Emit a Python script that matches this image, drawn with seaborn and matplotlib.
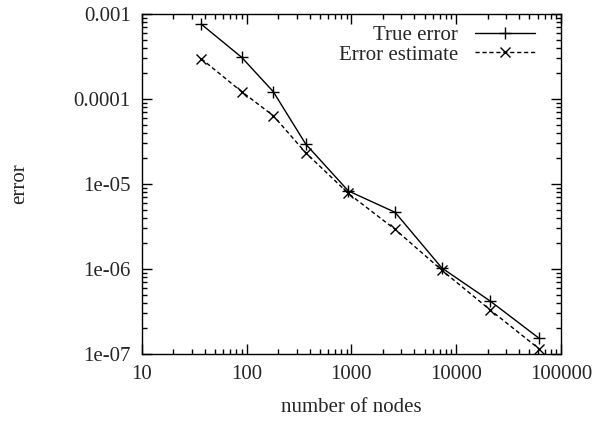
import numpy as np
import pandas as pd
import matplotlib
matplotlib.use("Agg")
import matplotlib.pyplot as plt
import matplotlib.ticker as mticker
import seaborn as sns

# values
nodes = [37, 90, 180, 367, 935, 2610, 7290, 21100, 61800]
true_error = [7.6e-4, 3.09e-4, 1.22e-4, 2.95e-5, 8.3e-6, 4.65e-6, 1.03e-6, 4.2e-7, 1.53e-7]
error_estimate = [2.98e-4, 1.22e-4, 6.37e-5, 2.33e-5, 7.76e-6, 2.93e-6, 9.7e-7, 3.3e-7, 1.15e-7]

x_ticks = [10, 100, 1000, 10000, 100000]
x_labels = ["10", "100", "1000", "10000", "100000"]
y_ticks = [1e-7, 1e-6, 1e-5, 1e-4, 1e-3]
y_labels = ["1e-07", "1e-06", "1e-05", "0.0001", "0.001"]

df = pd.DataFrame({"nodes": nodes, "true": true_error, "est": error_estimate})

sns.set_style("ticks")
plt.rcParams["font.family"] = ["Liberation Serif", "DejaVu Serif"]
plt.rcParams["font.size"] = 15

fig = plt.figure(figsize=(5.96, 4.26), dpi=100)
ax = fig.add_axes([0.2378, 0.169, 0.7035, 0.798])

sns.lineplot(data=df, x="nodes", y="true", ax=ax, color="black", linewidth=1,
             marker="+", markersize=9, markeredgewidth=1, markeredgecolor="black",
             label="True error")
sns.lineplot(data=df, x="nodes", y="est", ax=ax, color="black", linewidth=1,
             marker="x", markersize=6.5, markeredgewidth=1, markeredgecolor="black",
             label="Error estimate")
ax.lines[1].set_dashes((3, 2))

ax.set_xscale("log")
ax.set_yscale("log")
ax.set_xlim(10, 100000)
ax.set_ylim(1e-7, 1e-3)
ax.xaxis.set_major_locator(mticker.FixedLocator(x_ticks))
ax.xaxis.set_major_formatter(mticker.FixedFormatter(x_labels))
ax.yaxis.set_major_locator(mticker.FixedLocator(y_ticks))
ax.yaxis.set_major_formatter(mticker.FixedFormatter(y_labels))
ax.xaxis.set_minor_locator(mticker.LogLocator(base=10, subs=np.arange(2, 10), numticks=20))
ax.yaxis.set_minor_locator(mticker.LogLocator(base=10, subs=np.arange(2, 10), numticks=20))
ax.xaxis.set_minor_formatter(mticker.NullFormatter())
ax.yaxis.set_minor_formatter(mticker.NullFormatter())

ax.tick_params(which="both", direction="in", top=True, right=True, color="black",
               labelsize=15, width=1)
ax.tick_params(which="major", length=7, pad=8)
ax.tick_params(which="minor", length=3.5)
for s in ax.spines.values():
    s.set_color("black")
    s.set_linewidth(1)

ax.set_xlabel("number of nodes", fontsize=15, labelpad=10)
ax.set_ylabel("error", fontsize=15, labelpad=32)

leg = ax.legend(loc="upper right", bbox_to_anchor=(0.938, 0.966), frameon=False,
                markerfirst=False, fontsize=15, handlelength=2.9, handletextpad=0.8,
                labelspacing=0.0, borderpad=0, borderaxespad=0)
leg.legend_handles[1].set_dashes((3, 2))

fig.savefig("out.png", dpi=100)
